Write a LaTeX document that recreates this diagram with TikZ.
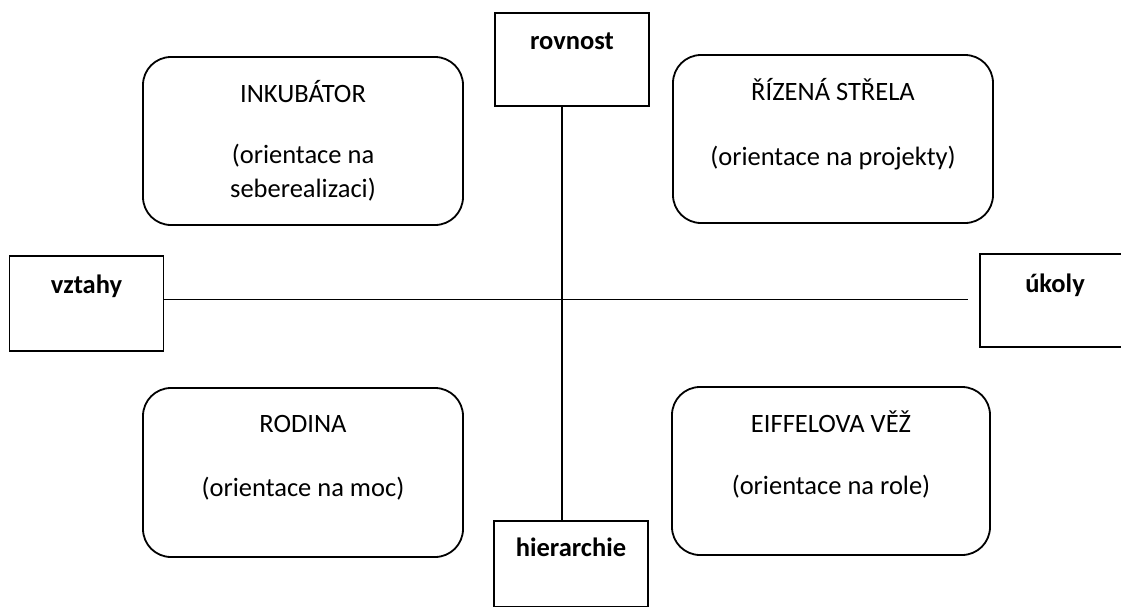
\documentclass[tikz,border=0pt]{standalone}
\usepackage{fontspec}
\setmainfont{Carlito}
\begin{document}
\begin{tikzpicture}[x=1pt,y=-1pt,
  sqbox/.style={draw=black, line width=1.6pt, minimum width=154pt, minimum height=93pt, inner sep=0pt},
  rbox/.style={draw=black, line width=1.8pt, rounded corners=28pt, minimum width=320pt, minimum height=168pt, inner sep=0pt},
  axisline/.style={draw=black, line width=1.4pt},
  bl/.style={font=\fontsize{26.5}{32}\selectfont\bfseries, anchor=base, inner sep=0pt},
  tl/.style={font=\fontsize{26.5}{32}\selectfont, anchor=base, inner sep=0pt}]
\useasboundingbox (0,0) rectangle (1121,606);
\fill[white] (0,0) rectangle (1121,606);
\clip (0,0) rectangle (1121,606);

% axis boxes
\node[sqbox] (rov) at (572,59.5) {};
\node[sqbox, minimum height=86pt] (hier) at (571,564) {};
\node[sqbox, minimum height=95pt] (vzt) at (86.5,303.5) {};
\node[sqbox] (uko) at (1057,300.5) {};

\node[bl] (rovT) at (572,49) {rovnost};
\node[bl] (hierT) at (571,556) {hierarchie};
\node[bl] (vztT) at (86.5,293) {vztahy};
\node[bl] (ukoT) at (1055,292) {úkoly};

% axes
\coordinate (vx) at (562,0);
\coordinate (hy) at (0,299.5);
\draw[axisline] (rov.south -| vx) -- (hier.north -| vx);
\draw[axisline] (vzt.east |- hy) -- ([xshift=-11pt]uko.west |- hy);

% quadrant boxes
\node[rbox] (ink) at (303,141) {};
\node[rbox] (riz) at (833,139) {};
\node[rbox, minimum height=169pt] (rod) at (303,472.5) {};
\node[rbox, minimum width=318pt] (eif) at (831,471) {};

\node[tl] (inkA) at (303,102) {INKUBÁTOR};
\node[tl] (inkB) at (303,163) {(orientace na};
\node[tl] (inkC) at (303,197) {seberealizaci)};

\node[tl] (rizA) at (833,100) {ŘÍZENÁ STŘELA};
\node[tl] (rizB) at (833,165) {(orientace na projekty)};

\node[tl] (rodA) at (303,432) {RODINA};
\node[tl] (rodB) at (303,496) {(orientace na moc)};

\node[tl] (eifA) at (831,432) {EIFFELOVA VĚŽ};
\node[tl] (eifB) at (831,494) {(orientace na role)};
\end{tikzpicture}
\end{document}
